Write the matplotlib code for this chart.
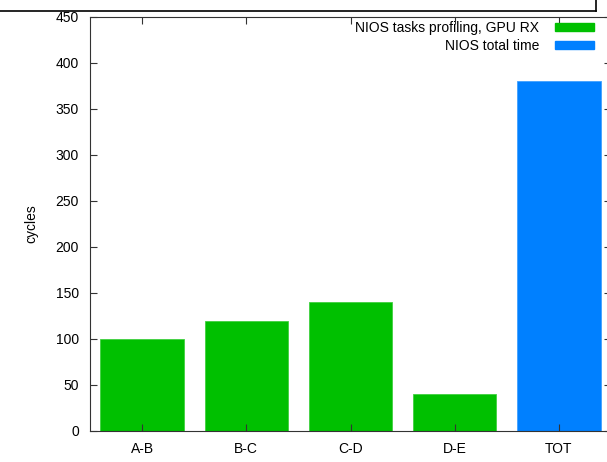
import matplotlib
matplotlib.use("Agg")
import matplotlib.pyplot as plt
from matplotlib.lines import Line2D
from matplotlib.patches import Patch

plt.rcParams["font.family"] = ["Liberation Sans", "DejaVu Sans"]
plt.rcParams["font.size"] = 10

# --- data ---
stages = ["A-B", "B-C", "C-D", "D-E"]
stage_cycles = [100, 120, 140, 40]
total_label = "TOT"
total_cycles = 380
yticks = [0, 50, 100, 150, 200, 250, 300, 350, 400, 450]

GREEN = "#00c000"
BLUE = "#0080ff"

fig = plt.figure(figsize=(6.07, 4.62), dpi=100)
# plot area runs a little past the right edge, like the source image
ax = fig.add_axes([90 / 607, 31 / 462, 521 / 607, 414 / 462])

xs = list(range(len(stages)))
ax.bar(xs, stage_cycles, width=0.8, color=GREEN, edgecolor="#40d040", linewidth=0.6)
ax.bar([len(stages)], [total_cycles], width=0.8, color=BLUE, edgecolor="#40a0ff", linewidth=0.6)

ax.set_xlim(-0.5, len(stages) + 0.5)
ax.set_ylim(0, 450)
ax.set_yticks(yticks)
ax.set_xticks(xs + [len(stages)])
ax.set_xticklabels(stages + [total_label])
ax.tick_params(direction="in", length=5, width=0.8, top=True, right=True, colors="#333333", labelcolor="black")
ax.tick_params(axis="y", pad=8)
ax.tick_params(axis="x", pad=8)
for s in ax.spines.values():
    s.set_color("#333333")
    s.set_linewidth(0.8)
ax.set_ylabel("cycles", labelpad=12.5)

handles = [Patch(facecolor=GREEN, edgecolor=GREEN), Patch(facecolor=BLUE, edgecolor=BLUE)]
ax.legend(handles, ["NIOS tasks profiling, GPU RX", "NIOS total time"],
          loc="upper right", bbox_to_anchor=(594 / 607, 1 - 21 / 462),
          bbox_transform=fig.transFigure, frameon=False, markerfirst=False,
          handlelength=2.8, handleheight=0.45, handletextpad=1.15,
          labelspacing=0.3, borderaxespad=0, borderpad=0)

# frame left over from the page above
fig.add_artist(Line2D([0, 596 / 607], [1 - 11 / 462, 1 - 11 / 462], color="black", lw=1.2))
fig.add_artist(Line2D([596 / 607, 596 / 607], [1 - 11 / 462, 1], color="black", lw=1.2))

fig.savefig("out.png", dpi=100)
